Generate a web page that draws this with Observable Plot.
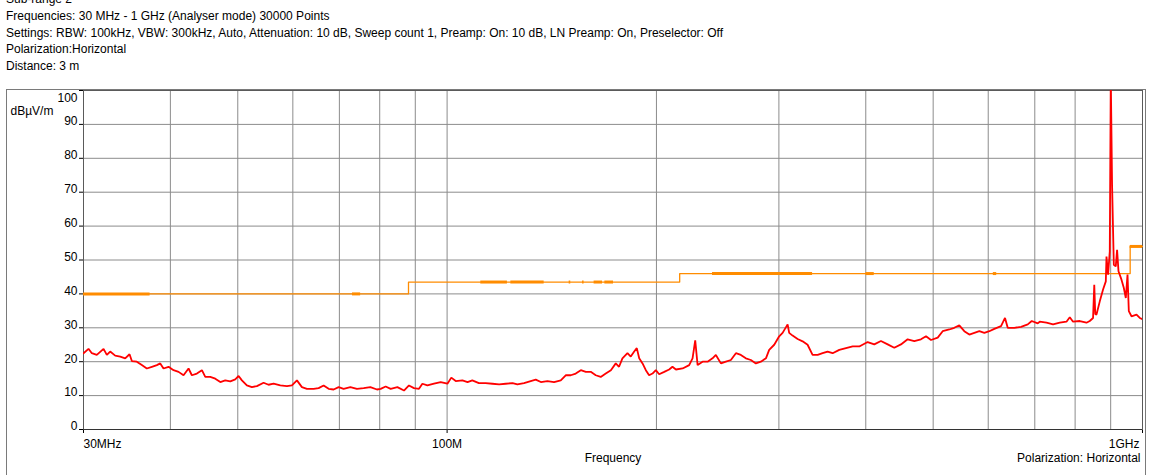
<!DOCTYPE html>
<html>
<head>
<meta charset="utf-8">
<script src="https://cdn.jsdelivr.net/npm/d3@7"></script>
<script src="https://cdn.jsdelivr.net/npm/@observablehq/plot@0.6"></script>
<style>
  body { margin: 0; background: #fff; font-family: "Liberation Sans", Arial, sans-serif; }
  #wrap { position: relative; width: 1149px; height: 475px; overflow: hidden; background: #fff; }
  #header { position: absolute; left: 6px; top: -8.9px; font-size: 12px; line-height: 16.7px; color: #000; white-space: nowrap; }
  #outer { position: absolute; left: 6px; top: 89px; width: 1138px; height: 420px; border: 1px solid #7a7a7a; border-bottom: none; }
  #chart { position: absolute; left: 0; top: 0; }
</style>
</head>
<body>
<div id="wrap">
  <div id="outer"></div>
  <div id="chart"></div>
  <div id="header"></div>
</div>
<script>
// ---- header text ----
const headerLines = [
  "Sub-range 2",
  "Frequencies: 30 MHz - 1 GHz (Analyser mode) 30000 Points",
  "Settings: RBW: 100kHz, VBW: 300kHz, Auto, Attenuation: 10 dB, Sweep count 1, Preamp: On: 10 dB, LN Preamp: On, Preselector: Off",
  "Polarization:Horizontal",
  "Distance: 3 m"
];
const yUnit = "dBµV/m";
const xTitle = "Frequency";
const xNote = "Polarization: Horizontal";

// ---- axis ticks ----
const yTicks = [0, 10, 20, 30, 40, 50, 60, 70, 80, 90, 100];
const xGrid = [40, 50, 60, 70, 80, 90, 100, 200, 300, 400, 500, 600, 700, 800, 900];
const xLabelFreqs = [30, 100, 1000];
const xLabelTexts = ["30MHz", "100M", "1GHz"];

// ---- measured trace (MHz, dBµV/m) ----
const freqMHz = [
  30.00, 30.50, 30.84, 31.35, 32.06, 32.41, 32.77, 33.32, 33.88, 34.44,
  34.94, 35.21, 35.79, 36.39, 37.00, 37.62, 38.25, 38.68, 39.10, 39.76,
  40.42, 41.10, 41.78, 42.48, 42.95, 43.67, 44.40, 44.90, 45.65, 46.41,
  47.19, 47.97, 48.78, 49.59, 50.14, 50.69, 51.53, 52.39, 53.27, 54.46,
  55.37, 56.30, 57.56, 58.84, 59.82, 60.82, 61.83, 62.87, 64.28, 65.35,
  66.44, 67.55, 68.68, 69.83, 70.99, 72.59, 74.19, 75.86, 77.56, 79.28,
  80.25, 81.59, 82.96, 84.82, 86.69, 88.14, 89.61, 91.11, 92.14, 93.68,
  95.75, 97.90, 100.1, 101.4, 102.9, 105.2, 107.0, 108.7, 111.1, 113.6,
  116.2, 118.8, 121.4, 124.2, 126.2, 129.0, 131.9, 134.1, 136.4, 139.4,
  142.5, 145.7, 148.1, 150.6, 153.1, 155.7, 158.3, 160.9, 163.6, 166.3,
  169.1, 172.0, 174.8, 176.7, 178.7, 181.7, 183.7, 185.8, 187.4, 188.9,
  191.0, 193.1, 195.2, 197.4, 199.6, 201.8, 205.2, 208.6, 210.9, 213.3,
  218.1, 222.9, 225.4, 227.4, 229.2, 233.0, 236.9, 240.8, 243.5, 247.6,
  251.7, 255.9, 260.2, 264.5, 268.9, 273.4, 278.0, 282.6, 287.4, 290.5,
  295.4, 300.3, 303.7, 308.8, 310.4, 313.9, 319.2, 324.5, 329.9, 335.4,
  341.1, 346.7, 352.5, 358.4, 366.4, 374.6, 383.0, 391.5, 402.5, 411.4,
  420.6, 430.1, 439.6, 449.4, 459.5, 469.7, 480.2, 488.3, 496.4, 507.6,
  516.0, 527.4, 536.2, 545.2, 554.3, 563.6, 573.0, 582.6, 592.3, 602.2,
  612.2, 626.0, 634.3, 640.0, 654.2, 668.9, 683.9, 693.0, 706.9, 711.6,
  727.6, 743.7, 760.3, 777.4, 786.0, 794.6, 812.5, 830.7, 839.8, 849.0,
  852.4, 855.2, 858.7, 868.1, 877.6, 885.6, 887.6, 892.3, 897.3, 900.3,
  904.2, 909.4, 915.3, 919.3, 923.6, 932.8, 939.9, 946.2, 951.6, 955.7,
  964.2, 980.4, 991.1, 1000
];
const levelDb = [
  22.5, 23.8, 22.5, 22.0, 23.8, 22.0, 23.0, 21.8, 21.5, 21.0,
  22.2, 20.2, 20.0, 19.0, 18.0, 18.5, 19.0, 19.5, 18.0, 18.5,
  17.5, 17.0, 16.0, 18.0, 16.0, 16.5, 17.5, 15.5, 15.5, 15.0,
  14.0, 14.5, 14.2, 14.8, 15.8, 14.5, 13.0, 12.5, 12.8, 13.8,
  13.2, 13.5, 13.0, 12.8, 13.0, 14.5, 12.5, 12.0, 12.0, 12.2,
  13.0, 12.0, 11.8, 12.5, 12.0, 12.5, 12.0, 12.2, 12.5, 11.8,
  12.0, 12.7, 12.0, 12.5, 11.5, 13.0, 12.2, 12.0, 13.5, 13.0,
  13.5, 14.0, 13.5, 15.3, 14.3, 14.5, 14.0, 14.5, 13.7, 13.7,
  13.5, 13.3, 13.5, 13.7, 13.3, 13.7, 14.3, 14.7, 14.0, 14.3,
  14.0, 14.5, 16.0, 16.0, 16.5, 17.5, 17.0, 17.0, 16.0, 15.5,
  16.5, 17.5, 19.5, 18.5, 21.0, 22.5, 21.5, 23.0, 24.0, 21.0,
  19.5, 17.5, 16.0, 16.5, 17.5, 16.3, 17.0, 17.7, 18.5, 17.7,
  18.0, 19.0, 21.0, 26.3, 19.0, 20.0, 20.0, 21.0, 22.0, 19.5,
  20.0, 20.5, 22.5, 22.0, 21.0, 20.5, 19.5, 20.0, 21.0, 23.5,
  25.0, 27.5, 28.5, 31.0, 28.5, 27.7, 26.7, 26.0, 25.0, 22.0,
  22.0, 22.5, 23.0, 22.5, 23.5, 24.0, 24.5, 24.5, 25.8, 25.1,
  26.1, 25.1, 24.1, 25.1, 26.6, 26.1, 26.6, 27.5, 26.4, 27.1,
  29.0, 29.5, 30.0, 30.7, 29.0, 28.0, 28.5, 29.0, 28.5, 29.0,
  29.7, 30.5, 32.9, 30.0, 30.0, 30.3, 31.0, 32.0, 31.3, 31.8,
  31.5, 31.0, 31.5, 31.8, 33.1, 31.8, 32.0, 31.5, 32.0, 32.9,
  42.7, 34.0, 33.9, 37.8, 41.3, 43.7, 51.0, 45.7, 52.5, 104,
  72.0, 48.6, 48.1, 53.0, 46.7, 44.2, 41.8, 38.8, 45.7, 34.9,
  33.4, 33.9, 32.9, 32.5
];

// ---- limit line (stepped) ----
const limitFreq = [30, 88, 88, 216, 216, 960, 960, 1000];
const limitDb = [40, 40, 43.5, 43.5, 46, 46, 54, 54];
// heavier stretches drawn on the limit line
const boldStart = [30, 73.1, 111.8, 123.5, 149.8, 156.6, 162.7, 168.6, 240.8, 400.2, 610.2, 960];
const boldEnd = [37.4, 75.1, 122.1, 137.9, 150.6, 157.4, 167.3, 173.5, 335.4, 411.4, 617.1, 1000];
const boldLevel = [40, 40, 43.5, 43.5, 43.5, 43.5, 43.5, 43.5, 46, 46, 46, 54];

// ---- build ----
document.getElementById("header").innerHTML = headerLines.map(t => `<div>${t}</div>`).join("");

const trace = freqMHz.map((f, i) => ({f, v: levelDb[i]}));
const limit = limitFreq.map((f, i) => ({f, v: limitDb[i]}));
const bold = boldStart.map((s, i) => ({x1: s, x2: boldEnd[i], y: boldLevel[i]}));
const xLabels = xLabelFreqs.map((f, i) => ({f, label: xLabelTexts[i]}));
const font = "'Liberation Sans', Arial, sans-serif";
const txt = {fill: "#000", lineAnchor: "middle"};

const chart = Plot.plot({
  width: 1149,
  height: 475,
  marginLeft: 83,
  marginRight: 7,
  marginTop: 90,
  marginBottom: 46,
  style: {background: "transparent", fontFamily: font, fontSize: "12px", color: "#000", overflow: "visible"},
  x: {type: "log", domain: [30, 1000], ticks: xLabelFreqs, tickSize: 4, tickFormat: () => "", label: null},
  y: {domain: [0, 100], ticks: yTicks, tickSize: 4, tickFormat: () => "", label: null},
  marks: [
    Plot.ruleY(yTicks.filter(d => d > 0 && d < 100), {stroke: "#8c8c8c", strokeWidth: 1}),
    Plot.ruleX(xGrid, {stroke: "#8c8c8c", strokeWidth: 1}),
    Plot.frame({stroke: "#5a5a5a", strokeWidth: 1}),
    Plot.ruleY([0], {stroke: "#333", strokeWidth: 1}),
    Plot.line(limit, {x: "f", y: "v", stroke: "#ff8c00", strokeWidth: 1.3}),
    Plot.ruleY(bold, {x1: "x1", x2: "x2", y: "y", stroke: "#ff8c00", strokeWidth: 3}),
    Plot.line(trace, {x: "f", y: "v", stroke: "#ff0000", strokeWidth: 1.8, strokeLinejoin: "miter", clip: true}),
    Plot.text(yTicks.filter(d => d < 100), {...txt, y: d => d, text: d => String(d), frameAnchor: "left", textAnchor: "end", dx: -6, dy: -3}),
    Plot.text(yTicks.filter(d => d === 100), {...txt, y: d => d, text: d => String(d), frameAnchor: "left", textAnchor: "end", dx: -6, dy: 8}),
    Plot.text([yUnit], {...txt, frameAnchor: "top-left", textAnchor: "start", dx: -73, dy: 21}),
    Plot.text(xLabels.filter(d => d.f === 30), {...txt, x: "f", text: "label", frameAnchor: "bottom", textAnchor: "start", dy: 15}),
    Plot.text(xLabels.filter(d => d.f === 100), {...txt, x: "f", text: "label", frameAnchor: "bottom", textAnchor: "middle", dy: 15}),
    Plot.text(xLabels.filter(d => d.f === 1000), {...txt, x: "f", text: "label", frameAnchor: "bottom", textAnchor: "end", dx: -3, dy: 15}),
    Plot.text([xTitle], {...txt, frameAnchor: "bottom", dy: 29}),
    Plot.text([xNote], {...txt, frameAnchor: "bottom-right", textAnchor: "end", dx: -2, dy: 29})
  ]
});
document.getElementById("chart").appendChild(chart);
</script>
</body>
</html>
